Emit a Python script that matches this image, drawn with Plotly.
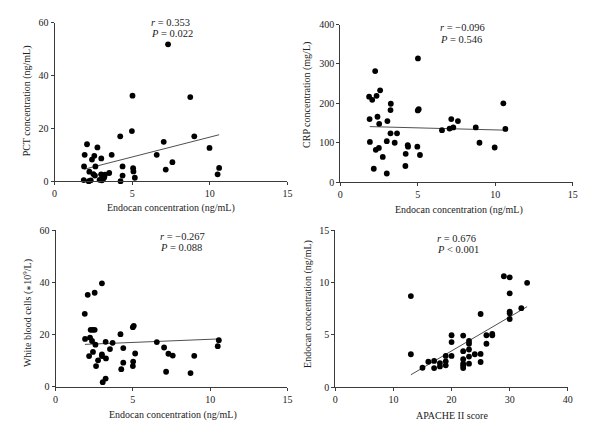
import plotly.graph_objects as go

W, H = 600, 439

# ---------------- Data ----------------
# Panel A: PCT vs Endocan
pct_endocan = [1.90, 1.94, 2.09, 1.88, 2.41, 2.56, 2.76, 2.63, 2.24, 2.60, 2.50, 2.20, 2.33,
               3.01, 3.68, 3.00, 3.10, 3.20, 3.15, 3.05, 3.25, 3.52, 4.23, 4.38, 4.38, 4.25,
               5.02, 4.98, 5.06, 5.08, 5.17, 6.58, 7.03, 7.16, 7.31, 7.59, 8.74, 9.00, 9.98,
               10.50, 10.60, 2.90]
pct_values = [5.6, 10.0, 14.0, 0.4, 8.2, 9.6, 12.8, 5.6, 3.6, 2.1, 2.7, 0.0, 0.3,
              8.6, 10.0, 2.6, 2.0, 1.5, 1.0, 0.3, 2.5, 3.1, 17.0, 5.6, 2.1, 0.0,
              32.4, 19.0, 4.9, 3.7, 1.3, 10.0, 14.9, 4.4, 51.9, 7.2, 31.9, 17.0, 12.6,
              2.6, 5.0, 0.5]
pct_fit_x = [1.9, 10.6]
pct_fit_y = [4.5, 17.6]

# Panel B: CRP vs Endocan
crp_endocan = [5.01, 2.25, 2.57, 1.86, 2.34, 2.06, 3.26, 5.00, 5.06, 3.24, 10.52, 1.89, 2.40,
               3.04, 2.51, 7.16, 7.59, 7.29, 7.05, 6.56, 8.74, 10.65, 3.24, 3.66, 1.91, 3.00,
               3.51, 8.98, 4.35, 4.37, 4.97, 9.96, 2.49, 2.29, 2.74, 4.22, 5.14, 4.20, 2.16, 3.00]
crp_values = [314, 282, 233, 217, 219, 209, 199, 182, 185, 183, 200, 160, 166,
              155, 148, 160, 155, 139, 136, 132, 139, 135, 124, 124, 102, 104,
              100, 100, 94, 90, 90, 88, 87, 82, 64, 72, 69, 41, 34, 22]
crp_fit_x = [1.9, 10.6]
crp_fit_y = [141, 132]

# Panel C: White blood cells vs Endocan
wbc_endocan = [3.00, 2.08, 2.53, 1.89, 2.27, 2.40, 2.53, 1.91, 2.23, 2.36, 3.24, 3.69, 2.58,
               4.20, 5.00, 5.06, 6.55, 10.56, 10.49, 7.02, 3.52, 4.38, 2.42, 5.15, 3.00, 3.00,
               7.30, 7.58, 8.97, 2.17, 3.26, 2.75, 5.02, 4.38, 2.62, 5.00, 4.25, 7.15, 8.73,
               3.24, 3.05]
wbc_values = [39.6, 35.2, 36.0, 27.9, 21.8, 21.8, 21.8, 18.3, 18.8, 17.5, 17.2, 16.8, 16.1,
              20.1, 22.8, 23.3, 17.1, 17.8, 15.5, 15.0, 14.4, 14.8, 13.3, 12.7, 12.4, 11.7,
              12.6, 11.9, 11.8, 11.7, 10.8, 10.1, 9.6, 9.2, 7.9, 7.9, 6.7, 5.7, 5.2,
              3.1, 1.7]
wbc_fit_x = [1.9, 10.6]
wbc_fit_y = [16.2, 18.3]

# Panel D: Endocan vs APACHE II score
apache_scores = [13, 13, 15, 16, 17, 17, 18, 18, 19, 19, 19, 20, 20, 20,
                 22, 22, 22, 22, 22, 22, 23, 23, 23, 23, 23, 24, 25, 25, 25,
                 26, 26, 27, 27, 29, 30, 30, 30, 30, 30, 32, 33]
apache_endocan = [8.71, 3.16, 1.87, 2.45, 2.52, 1.84, 2.32, 2.00, 3.00, 2.48, 2.10, 4.97, 4.32, 3.00,
                  4.94, 3.45, 2.68, 2.26, 2.06, 1.84, 4.42, 4.16, 3.61, 2.94, 2.26, 3.16, 7.00, 3.19, 2.42,
                  4.97, 4.16, 5.10, 4.97, 10.60, 10.50, 8.97, 7.23, 7.06, 6.52, 7.55, 9.97]
apache_fit_x = [13, 33]
apache_fit_y = [1.2, 7.7]

# Labels
stats_text = [("0.353", "= 0.022"), ("\u22120.096", "= 0.546"),
              ("\u22120.267", "= 0.088"), ("0.676", "< 0.001")]
x_titles = ["Endocan concentration (ng/mL)", "Endocan concentration (ng/mL)",
            "Endocan concentration (ng/mL)", "APACHE II score"]
y_titles = ["PCT concentration (ng/mL)", "CRP concentration (mg/L)",
            "White blood cells (<span style='font-size:7px'>\u2217</span>10<sup>9</sup>/L)",
            "Endocan concentration (ng/mL)"]
x_ticks = [[0, 5, 10, 15], [0, 5, 10, 15], [0, 5, 10, 15], [0, 10, 20, 30, 40]]
y_ticks = [[0, 20, 40, 60], [0, 100, 200, 300, 400], [0, 20, 40, 60], [0, 5, 10, 15]]

# ---------------- Layout geometry (screen pixels) ----------------
boxes = [(54.3, 288.0, 25.7, 181.7),
         (341.0, 574.3, 27.3, 182.7),
         (55.3, 288.0, 230.0, 384.3),
         (336.0, 569.3, 230.0, 385.0)]
stat_pos = [(149, 25), (439, 30.7), (157.7, 236), (436, 238.3)]
xtitle_pos = [(170.7, 208.3), (460, 210), (172.7, 412.3), (452.7, 412.7)]
ytitle_pos = [(26.7, 103), (308.3, 97), (26.7, 311.7), (308.3, 303)]

# screen-pixel -> paper fraction (calibrated placement of the paper area)
PAPER_X0, PAPER_W = 10.6, 594.0
PAPER_Y0, PAPER_H = 16.9, 421.0


def px(xp):
    return (xp - PAPER_X0) / PAPER_W


def py(yp):
    return 1 - (yp - PAPER_Y0) / PAPER_H


FONT = "Liberation Serif, Times New Roman, serif"
TXT = "#222222"
AX = "#3a3a3a"

panels = [(pct_endocan, pct_values, pct_fit_x, pct_fit_y),
          (crp_endocan, crp_values, crp_fit_x, crp_fit_y),
          (wbc_endocan, wbc_values, wbc_fit_x, wbc_fit_y),
          (apache_scores, apache_endocan, apache_fit_x, apache_fit_y)]

fig = go.Figure()
annotations = []
layout = dict(width=W, height=H, margin=dict(l=0, r=0, t=0, b=0),
              paper_bgcolor="white", plot_bgcolor="white", showlegend=False,
              font=dict(family=FONT, color=TXT, size=10))

for i, (xs, ys, fx, fy) in enumerate(panels):
    n = "" if i == 0 else str(i + 1)
    xa, ya = "x" + n, "y" + n
    fig.add_trace(go.Scatter(x=fx, y=fy, mode="lines", xaxis=xa, yaxis=ya,
                             line=dict(color="#505050", width=1), hoverinfo="skip"))
    fig.add_trace(go.Scatter(x=xs, y=ys, mode="markers", xaxis=xa, yaxis=ya,
                             marker=dict(color="black", size=5.8), cliponaxis=False))
    l, r, t, b = boxes[i]
    xt, yt = x_ticks[i], y_ticks[i]
    common = dict(showline=True, linecolor=AX, linewidth=1, ticks="outside", ticklen=3,
                  tickcolor=AX, showgrid=False, zeroline=False,
                  tickfont=dict(size=10, family=FONT, color=TXT))
    layout["xaxis" + n] = dict(domain=[px(l), px(r)], anchor=ya, range=[xt[0], xt[-1]],
                               tickvals=xt, **common)
    layout["yaxis" + n] = dict(domain=[py(b), py(t)], anchor=xa, range=[yt[0], yt[-1]],
                               tickvals=yt, **common)
    tx, ty = xtitle_pos[i]
    annotations.append(dict(text=x_titles[i], x=px(tx), y=py(ty),
                            xref="paper", yref="paper", showarrow=False,
                            xanchor="center", yanchor="middle",
                            font=dict(size=10, family=FONT, color=TXT)))
    yx, yy = ytitle_pos[i]
    annotations.append(dict(text=y_titles[i], x=px(yx), y=py(yy),
                            xref="paper", yref="paper", showarrow=False, textangle=-90,
                            xanchor="center", yanchor="middle",
                            font=dict(size=10, family=FONT, color=TXT)))
    sx, sy = stat_pos[i]
    rv, pv = stats_text[i]
    annotations.append(dict(text="<i>r</i> = " + rv, x=px(sx), y=py(sy),
                            xref="paper", yref="paper", showarrow=False,
                            xanchor="left", yanchor="middle",
                            font=dict(size=10.5, family=FONT, color=TXT)))
    annotations.append(dict(text="<i>P</i> " + pv, x=px(sx), y=py(sy + 11),
                            xref="paper", yref="paper", showarrow=False,
                            xanchor="left", yanchor="middle",
                            font=dict(size=10.5, family=FONT, color=TXT)))

layout["annotations"] = annotations
fig.update_layout(**layout)
fig.write_html("out.html")
